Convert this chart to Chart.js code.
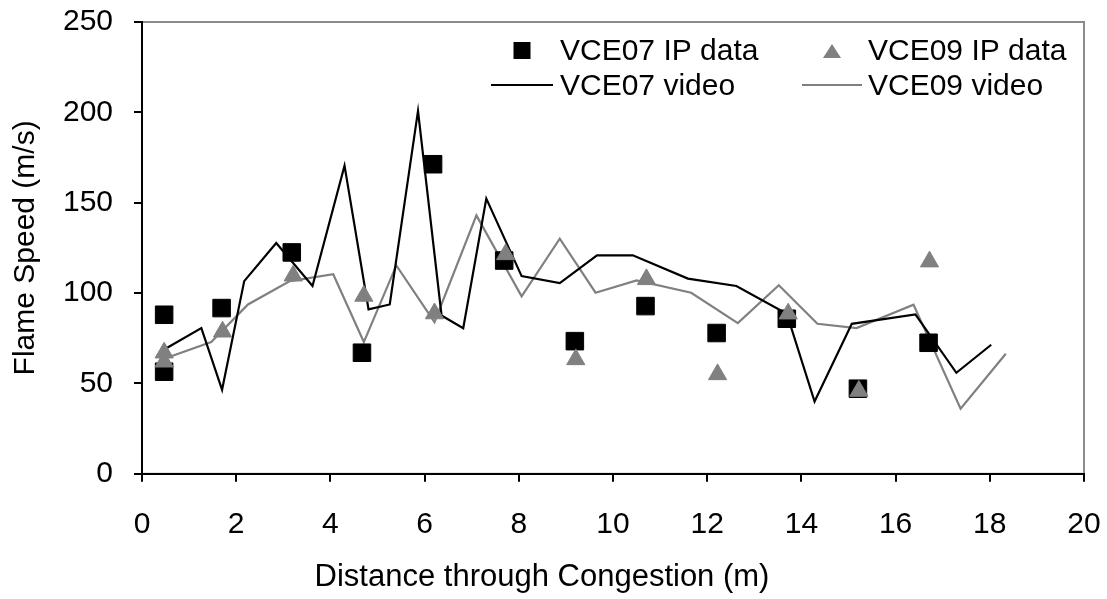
<!DOCTYPE html>
<html>
<head>
<meta charset="utf-8">
<script src="https://cdn.jsdelivr.net/npm/chart.js@4/dist/chart.umd.min.js"></script>
<style>
  html, body { margin: 0; padding: 0; background: #fff; }
  #wrap { width: 1107px; height: 599px; position: relative; }
</style>
</head>
<body>
<div id="wrap"><canvas id="flameChart"></canvas></div>
<script>
// Flame speed data (distance in m, speed in m/s)
const vce07IpX = [0.47, 0.47, 1.69, 3.18, 4.67, 6.18, 7.69, 9.19, 10.69, 12.2, 13.69, 15.2, 16.7];
const vce07IpY = [88, 56.5, 91.7, 122.5, 67, 171.3, 118, 73.4, 92.8, 77.9, 85.8, 47.1, 72.5];

const vce09IpX = [0.47, 0.47, 1.71, 3.21, 4.71, 6.21, 7.72, 9.21, 10.71, 12.22, 13.72, 15.22, 16.72];
const vce09IpY = [67, 62, 78.6, 109.6, 98.4, 88.7, 121.4, 63.3, 107.6, 55, 88.6, 45.8, 117.4];

const vce07VideoX = [0.47, 1.26, 1.70, 2.17, 2.85, 3.62, 4.30, 4.81, 5.26, 5.86, 6.36, 6.82, 7.31, 8.06, 8.87, 9.66, 10.42, 11.59, 12.62, 13.69, 14.28, 15.07, 16.42, 17.29, 18.03];
const vce07VideoY = [68.8, 80.6, 46.5, 106.6, 127.7, 103.9, 170.5, 91, 93.7, 200.8, 87.6, 80.6, 152.3, 109.4, 105.5, 120.9, 120.9, 108, 103.9, 88.6, 40, 83, 88.2, 55.9, 71.4];

const vce09VideoX = [0.47, 1.47, 2.25, 3.14, 4.06, 4.71, 5.40, 6.21, 7.10, 8.06, 8.87, 9.63, 10.50, 11.66, 12.65, 13.52, 14.34, 15.17, 16.38, 17.38, 18.34];
const vce09VideoY = [63.7, 72.9, 93.7, 106.6, 110.4, 72.9, 115.3, 83.9, 143, 98.2, 130.1, 100.2, 107, 100.2, 83.4, 104.3, 83, 80.6, 93.6, 36, 66.4];

const xTicks = [0, 2, 4, 6, 8, 10, 12, 14, 16, 18, 20];
const yTicks = [0, 50, 100, 150, 200, 250];

const FONT = "'Liberation Sans', Arial, sans-serif";
const GREY = "#808080";

function toPoints(xs, ys) {
  return xs.map((x, i) => ({ x: x, y: ys[i] }));
}

// grey frame of the plot area (left and bottom get covered by the black axes)
const framePlugin = {
  id: "frame",
  beforeDraw(chart) {
    const a = chart.chartArea;
    const ctx = chart.ctx;
    ctx.save();
    ctx.strokeStyle = "#8c8c8c";
    ctx.lineWidth = 2;
    ctx.strokeRect(a.left, a.top, a.right - a.left, a.bottom - a.top);
    ctx.restore();
  },
};

// two-column legend in the upper right of the plot
const legendSlots = [
  { symX: 491, symW: 62, textX: 560, y: 51 },
  { symX: 802, symW: 60, textX: 868, y: 51 },
  { symX: 491, symW: 62, textX: 560, y: 86 },
  { symX: 802, symW: 60, textX: 868, y: 86 },
];

const legendPlugin = {
  id: "cornerLegend",
  afterDraw(chart) {
    const ctx = chart.ctx;
    ctx.save();
    chart.data.datasets.forEach((ds, i) => {
      const s = legendSlots[i];
      const cx = s.symX + s.symW / 2;
      if (ds.showLine) {
        ctx.strokeStyle = ds.borderColor;
        ctx.lineWidth = ds.borderWidth;
        ctx.beginPath();
        ctx.moveTo(s.symX, s.y - 1);
        ctx.lineTo(s.symX + s.symW, s.y - 1);
        ctx.stroke();
      } else if (ds.pointStyle === "rect") {
        ctx.fillStyle = ds.pointBackgroundColor;
        ctx.fillRect(cx - 8.5, s.y - 9, 17, 17);
      } else {
        ctx.fillStyle = ds.pointBackgroundColor;
        ctx.beginPath();
        ctx.moveTo(cx, s.y - 7);
        ctx.lineTo(cx + 9, s.y + 7);
        ctx.lineTo(cx - 9, s.y + 7);
        ctx.closePath();
        ctx.fill();
      }
      ctx.fillStyle = "#000";
      ctx.font = "30px " + FONT;
      ctx.textBaseline = "middle";
      ctx.textAlign = "left";
      ctx.fillText(ds.label, s.textX, s.y + 1);
    });
    ctx.restore();
  },
};

const ctx = document.getElementById("flameChart").getContext("2d");
const flameChart = new Chart(ctx, {
  type: "scatter",
  data: {
    datasets: [
      {
        label: "VCE07 IP data",
        data: toPoints(vce07IpX, vce07IpY),
        pointStyle: "rect",
        pointRadius: 12.4,
        pointBackgroundColor: "#000",
        pointBorderColor: "#000",
        pointBorderWidth: 1,
        showLine: false,
        order: 1,
      },
      {
        label: "VCE09 IP data",
        data: toPoints(vce09IpX, vce09IpY),
        pointStyle: "triangle",
        pointRadius: 10.5,
        pointBackgroundColor: GREY,
        pointBorderColor: GREY,
        pointBorderWidth: 1,
        showLine: false,
        order: 0,
      },
      {
        label: "VCE07 video",
        data: toPoints(vce07VideoX, vce07VideoY),
        showLine: true,
        borderColor: "#000",
        borderWidth: 2.2,
        pointRadius: 0,
        tension: 0,
        order: 2,
      },
      {
        label: "VCE09 video",
        data: toPoints(vce09VideoX, vce09VideoY),
        showLine: true,
        borderColor: GREY,
        borderWidth: 2.2,
        pointRadius: 0,
        tension: 0,
        order: 3,
      },
    ],
  },
  options: {
    responsive: true,
    maintainAspectRatio: false,
    animation: false,
    devicePixelRatio: 1,
    layout: {
      padding: { left: 0, top: 22, right: 23, bottom: 0 },
    },
    plugins: {
      legend: { display: false },
      tooltip: { enabled: false },
      title: {
        display: true,
        position: "bottom",
        text: "Distance through Congestion (m)",
        color: "#000",
        font: { family: FONT, size: 31, weight: "normal" },
        padding: { top: 0, bottom: 3 },
      },
    },
    scales: {
      x: {
        type: "linear",
        min: 0,
        max: 20,
        afterBuildTicks: (axis) => {
          axis.ticks = xTicks.map((v) => ({ value: v }));
        },
        afterFit: (axis) => {
          axis.height = 85;
          axis.paddingLeft = 0;
          axis.paddingRight = 0;
        },
        grid: {
          drawOnChartArea: false,
          drawTicks: true,
          tickLength: 8,
          color: "#000",
          lineWidth: 2,
        },
        border: { display: true, color: "#000", width: 2 },
        ticks: {
          color: "#000",
          padding: 25,
          font: { family: FONT, size: 30 },
        },
      },
      y: {
        type: "linear",
        min: 0,
        max: 250,
        afterBuildTicks: (axis) => {
          axis.ticks = yTicks.map((v) => ({ value: v }));
        },
        afterFit: (axis) => {
          axis.width = 142;
          axis.paddingTop = 0;
          axis.paddingBottom = 0;
        },
        grid: {
          drawOnChartArea: false,
          drawTicks: true,
          tickLength: 8,
          color: "#000",
          lineWidth: 2,
        },
        border: { display: true, color: "#000", width: 2 },
        ticks: {
          color: "#000",
          padding: 21,
          font: { family: FONT, size: 30 },
        },
        title: {
          display: true,
          text: "Flame Speed (m/s)",
          color: "#000",
          font: { family: FONT, size: 30 },
          padding: { top: 8, bottom: 0 },
        },
      },
    },
  },
  plugins: [framePlugin, legendPlugin],
});
</script>
</body>
</html>
